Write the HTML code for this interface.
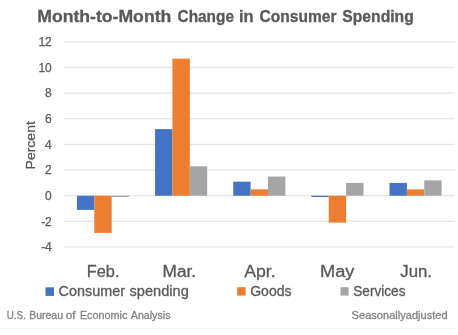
<!DOCTYPE html><html><head><meta charset="utf-8"><style>html,body{margin:0;padding:0;background:#fff;}svg{display:block;filter:blur(0.35px);font-family:"Liberation Sans",sans-serif;}</style></head><body>
<svg width="458" height="335" viewBox="0 0 458 335">
<rect width="458" height="335" fill="#fff"/>
<rect x="63.9" y="41.300" width="390.9" height="1.2" fill="#e5e5e5"/>
<rect x="63.9" y="66.925" width="390.9" height="1.2" fill="#e5e5e5"/>
<rect x="63.9" y="92.550" width="390.9" height="1.2" fill="#e5e5e5"/>
<rect x="63.9" y="118.175" width="390.9" height="1.2" fill="#e5e5e5"/>
<rect x="63.9" y="143.800" width="390.9" height="1.2" fill="#e5e5e5"/>
<rect x="63.9" y="169.425" width="390.9" height="1.2" fill="#e5e5e5"/>
<rect x="63.9" y="195.050" width="390.9" height="1.2" fill="#e5e5e5"/>
<rect x="63.9" y="220.675" width="390.9" height="1.2" fill="#e5e5e5"/>
<rect x="63.9" y="246.300" width="390.9" height="1.2" fill="#e5e5e5"/>
<rect x="76.925" y="195.750" width="17.367" height="14.094" fill="#4472C4"/>
<rect x="94.292" y="195.750" width="17.367" height="37.156" fill="#ED7D31"/>
<rect x="111.658" y="195.750" width="17.367" height="1.281" fill="#A5A5A5"/>
<rect x="155.075" y="129.125" width="17.367" height="66.625" fill="#4472C4"/>
<rect x="172.442" y="58.656" width="17.367" height="137.094" fill="#ED7D31"/>
<rect x="189.808" y="166.281" width="17.367" height="29.469" fill="#A5A5A5"/>
<rect x="233.225" y="181.656" width="17.367" height="14.094" fill="#4472C4"/>
<rect x="250.592" y="189.344" width="17.367" height="6.406" fill="#ED7D31"/>
<rect x="267.958" y="176.531" width="17.367" height="19.219" fill="#A5A5A5"/>
<rect x="311.375" y="195.750" width="17.367" height="1.281" fill="#4472C4"/>
<rect x="328.742" y="195.750" width="17.367" height="26.906" fill="#ED7D31"/>
<rect x="346.108" y="182.938" width="17.367" height="12.812" fill="#A5A5A5"/>
<rect x="389.525" y="182.938" width="17.367" height="12.812" fill="#4472C4"/>
<rect x="406.892" y="189.344" width="17.367" height="6.406" fill="#ED7D31"/>
<rect x="424.258" y="180.375" width="17.367" height="15.375" fill="#A5A5A5"/>
<text x="37.21" y="21.80" font-size="16.4" font-weight="bold" stroke="#595959" stroke-width="0.3" fill="#595959" textLength="134.08" lengthAdjust="spacingAndGlyphs">Month-to-Month</text>
<text x="177.59" y="21.80" font-size="16.4" font-weight="bold" stroke="#595959" stroke-width="0.3" fill="#595959" textLength="56.35" lengthAdjust="spacingAndGlyphs">Change</text>
<text x="238.94" y="21.80" font-size="16.4" font-weight="bold" stroke="#595959" stroke-width="0.3" fill="#595959" textLength="14.67" lengthAdjust="spacingAndGlyphs">in</text>
<text x="259.58" y="21.80" font-size="16.4" font-weight="bold" stroke="#595959" stroke-width="0.3" fill="#595959" textLength="76.92" lengthAdjust="spacingAndGlyphs">Consumer</text>
<text x="342.33" y="21.80" font-size="16.4" font-weight="bold" stroke="#595959" stroke-width="0.3" fill="#595959" textLength="71.39" lengthAdjust="spacingAndGlyphs">Spending</text>
<text x="51.8" y="46.20" font-size="12" fill="#595959" stroke="#595959" stroke-width="0.25" text-anchor="end">12</text>
<text x="51.8" y="71.83" font-size="12" fill="#595959" stroke="#595959" stroke-width="0.25" text-anchor="end">10</text>
<text x="51.8" y="97.45" font-size="12" fill="#595959" stroke="#595959" stroke-width="0.25" text-anchor="end">8</text>
<text x="51.8" y="123.08" font-size="12" fill="#595959" stroke="#595959" stroke-width="0.25" text-anchor="end">6</text>
<text x="51.8" y="148.70" font-size="12" fill="#595959" stroke="#595959" stroke-width="0.25" text-anchor="end">4</text>
<text x="51.8" y="174.33" font-size="12" fill="#595959" stroke="#595959" stroke-width="0.25" text-anchor="end">2</text>
<text x="51.8" y="199.95" font-size="12" fill="#595959" stroke="#595959" stroke-width="0.25" text-anchor="end">0</text>
<text x="51.8" y="225.58" font-size="12" fill="#595959" stroke="#595959" stroke-width="0.25" text-anchor="end">-2</text>
<text x="51.8" y="251.20" font-size="12" fill="#595959" stroke="#595959" stroke-width="0.25" text-anchor="end">-4</text>
<text transform="translate(35.3,145.3) rotate(-90)" x="0" y="0" font-size="13.6" fill="#595959" stroke="#595959" stroke-width="0.3" text-anchor="middle" textLength="48.3" lengthAdjust="spacingAndGlyphs">Percent</text>
<text x="86.85" y="276.80" font-size="15.8" stroke="#595959" stroke-width="0.3" fill="#595959" textLength="32.63" lengthAdjust="spacingAndGlyphs">Feb.</text>
<text x="162.58" y="276.80" font-size="15.8" stroke="#595959" stroke-width="0.3" fill="#595959" textLength="33.58" lengthAdjust="spacingAndGlyphs">Mar.</text>
<text x="244.16" y="276.80" font-size="15.8" stroke="#595959" stroke-width="0.3" fill="#595959" textLength="31.46" lengthAdjust="spacingAndGlyphs">Apr.</text>
<text x="320.00" y="276.80" font-size="15.8" stroke="#595959" stroke-width="0.3" fill="#595959" textLength="34.43" lengthAdjust="spacingAndGlyphs">May</text>
<text x="400.25" y="276.80" font-size="15.8" stroke="#595959" stroke-width="0.3" fill="#595959" textLength="31.77" lengthAdjust="spacingAndGlyphs">Jun.</text>
<rect x="45.5" y="287.3" width="8.5" height="8.6" fill="#4472C4"/>
<rect x="237.2" y="287.2" width="8.4" height="8.4" fill="#ED7D31"/>
<rect x="340.5" y="287.2" width="8.1" height="8.4" fill="#A5A5A5"/>
<text x="58.58" y="296.00" font-size="14.3" stroke="#595959" stroke-width="0.3" fill="#595959" textLength="66.44" lengthAdjust="spacingAndGlyphs">Consumer</text>
<text x="129.50" y="296.00" font-size="14.3" stroke="#595959" stroke-width="0.3" fill="#595959" textLength="59.34" lengthAdjust="spacingAndGlyphs">spending</text>
<text x="250.20" y="296.00" font-size="14.3" stroke="#595959" stroke-width="0.3" fill="#595959" textLength="41.38" lengthAdjust="spacingAndGlyphs">Goods</text>
<text x="353.29" y="296.00" font-size="14.3" stroke="#595959" stroke-width="0.3" fill="#595959" textLength="52.18" lengthAdjust="spacingAndGlyphs">Services</text>
<text x="6.74" y="318.60" font-size="11.0" stroke="#838383" stroke-width="0.3" fill="#838383" textLength="19.15" lengthAdjust="spacingAndGlyphs">U.S.</text>
<text x="29.13" y="318.60" font-size="11.0" stroke="#838383" stroke-width="0.3" fill="#838383" textLength="33.87" lengthAdjust="spacingAndGlyphs">Bureau</text>
<text x="65.70" y="318.60" font-size="11.0" stroke="#838383" stroke-width="0.3" fill="#838383" textLength="9.89" lengthAdjust="spacingAndGlyphs">of</text>
<text x="79.91" y="318.60" font-size="11.0" stroke="#838383" stroke-width="0.3" fill="#838383" textLength="47.39" lengthAdjust="spacingAndGlyphs">Economic</text>
<text x="130.77" y="318.60" font-size="11.0" stroke="#838383" stroke-width="0.3" fill="#838383" textLength="39.71" lengthAdjust="spacingAndGlyphs">Analysis</text>
<text x="351.60" y="318.60" font-size="11.0" stroke="#838383" stroke-width="0.3" fill="#838383" textLength="96.00" lengthAdjust="spacingAndGlyphs">Seasonallyadjusted</text>
<rect x="0" y="328" width="455" height="1" fill="#f3f3f3"/>
</svg></body></html>
